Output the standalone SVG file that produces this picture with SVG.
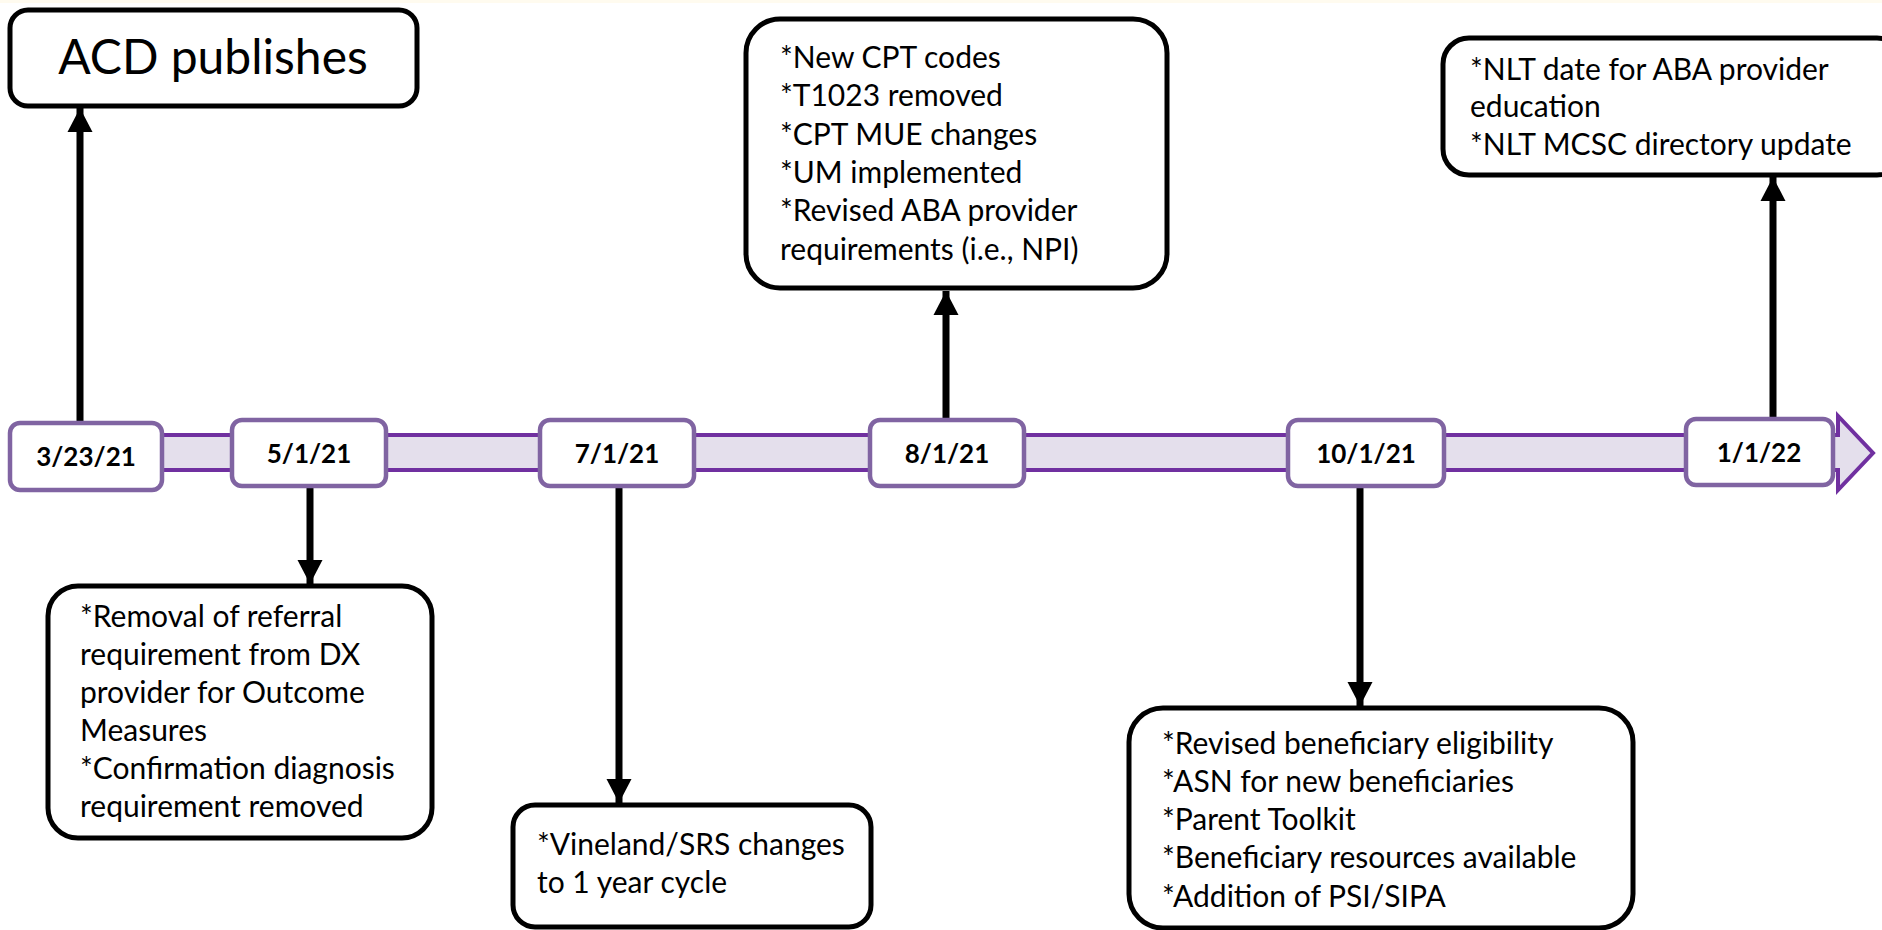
<svg xmlns="http://www.w3.org/2000/svg" width="1882" height="930" viewBox="0 0 1882 930">
<defs>
<marker id="ah" markerUnits="userSpaceOnUse" markerWidth="26" markerHeight="28" viewBox="0 -14 26 28" refX="24" refY="0" orient="auto">
<path d="M0,-12.5 L24,0 L0,12.5 z" fill="#000"/>
</marker>
<style>
.box{fill:#fff;stroke:#000;stroke-width:5}
.date{fill:#fff;stroke:#8064A2;stroke-width:4.5}
.dt{font-family:Lato,"Liberation Sans",sans-serif;font-weight:bold;font-size:26px;fill:#000;text-anchor:middle}
.tx{font-family:Lato,"Liberation Sans",sans-serif;font-size:30px;fill:#000}
.big{font-family:Lato,"Liberation Sans",sans-serif;font-size:48px;fill:#000;text-anchor:middle}
.con{stroke:#000;stroke-width:7;fill:none;marker-end:url(#ah)}
</style>
</defs>
<rect x="0" y="0" width="1882" height="930" fill="#fff"/>
<rect x="0" y="0" width="1882" height="3" fill="#FFFBEF"/>
<g id="timeline-bar">
<path d="M130,435 H1838 V416 L1873,453 L1838,490 V470 H130 Z" fill="#E4DFEC" stroke="#7030A0" stroke-width="4"/>
</g>
<g id="connectors">
<line class="con" x1="80" y1="422" x2="80" y2="108"/>
<line class="con" x1="310" y1="488" x2="310" y2="584"/>
<line class="con" x1="619" y1="488" x2="619" y2="803"/>
<line class="con" x1="946" y1="420" x2="946" y2="291"/>
<line class="con" x1="1360" y1="488" x2="1360" y2="706"/>
<line class="con" x1="1773" y1="419" x2="1773" y2="177"/>
</g>
<g id="acd">
<rect class="box" x="10" y="10" width="407" height="96" rx="18"/>
<text class="big" x="213" y="74">ACD publishes</text>
</g>
<g id="d1">
<rect class="date" x="10" y="423" width="152" height="67" rx="10"/>
<text class="dt" x="86" y="466">3/23/21</text>
</g>
<g id="d2">
<rect class="date" x="232" y="420" width="154" height="66" rx="10"/>
<text class="dt" x="309" y="463">5/1/21</text>
</g>
<g id="d3">
<rect class="date" x="540" y="420" width="154" height="66" rx="10"/>
<text class="dt" x="617" y="463">7/1/21</text>
</g>
<g id="d4">
<rect class="date" x="870" y="420" width="154" height="66" rx="10"/>
<text class="dt" x="947" y="463">8/1/21</text>
</g>
<g id="d5">
<rect class="date" x="1288" y="420" width="156" height="66" rx="10"/>
<text class="dt" x="1366" y="463">10/1/21</text>
</g>
<g id="d6">
<rect class="date" x="1686" y="419" width="147" height="66" rx="10"/>
<text class="dt" x="1759" y="462">1/1/22</text>
</g>
<g id="n-may">
<rect class="box" x="48" y="586" width="384" height="252" rx="30"/>
<text class="tx" x="80" y="627">*Removal of referral</text>
<text class="tx" x="80" y="665">requirement from DX</text>
<text class="tx" x="80" y="703">provider for Outcome</text>
<text class="tx" x="80" y="741">Measures</text>
<text class="tx" x="80" y="779">*Confirmation diagnosis</text>
<text class="tx" x="80" y="817">requirement removed</text>
</g>
<g id="n-jul">
<rect class="box" x="513" y="805" width="358" height="122" rx="22"/>
<text class="tx" x="537" y="855">*Vineland/SRS changes</text>
<text class="tx" x="537" y="893">to 1 year cycle</text>
</g>
<g id="n-aug">
<rect class="box" x="746" y="19" width="421" height="269" rx="34"/>
<text class="tx" x="780" y="68">*New CPT codes</text>
<text class="tx" x="780" y="106">*T1023 removed</text>
<text class="tx" x="780" y="145">*CPT MUE changes</text>
<text class="tx" x="780" y="183">*UM implemented</text>
<text class="tx" x="780" y="221">*Revised ABA provider</text>
<text class="tx" x="780" y="260">requirements (i.e., NPI)</text>
</g>
<g id="n-oct">
<rect class="box" x="1129" y="708" width="504" height="220" rx="34"/>
<text class="tx" x="1162" y="754">*Revised beneficiary eligibility</text>
<text class="tx" x="1162" y="792">*ASN for new beneficiaries</text>
<text class="tx" x="1162" y="830">*Parent Toolkit</text>
<text class="tx" x="1162" y="868">*Beneficiary resources available</text>
<text class="tx" x="1162" y="907">*Addition of PSI/SIPA</text>
</g>
<g id="n-jan">
<rect class="box" x="1443" y="38" width="460" height="137" rx="26"/>
<text class="tx" x="1470" y="80">*NLT date for ABA provider</text>
<text class="tx" x="1470" y="117">education</text>
<text class="tx" x="1470" y="155">*NLT MCSC directory update</text>
</g>
</svg>
